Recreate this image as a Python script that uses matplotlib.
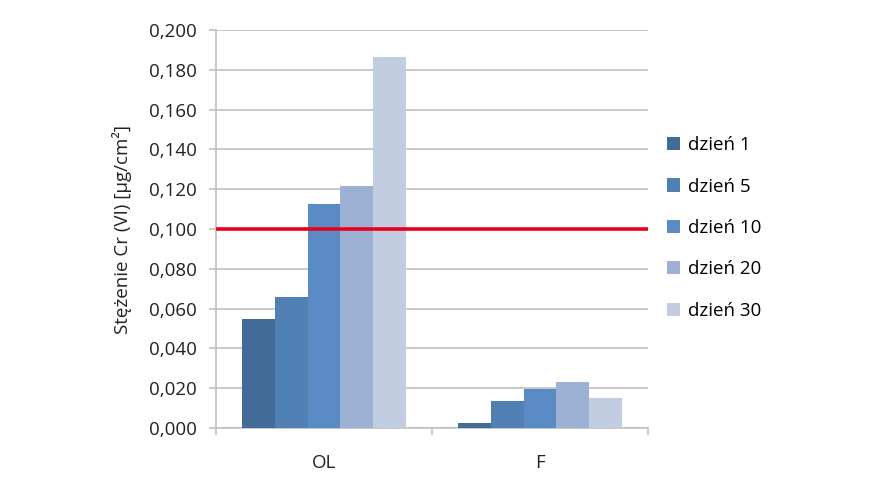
import numpy as np
import matplotlib
matplotlib.use("Agg")
import matplotlib.pyplot as plt
from matplotlib.ticker import FuncFormatter, FixedLocator

plt.rcParams['font.family'] = ['Open Sans', 'DejaVu Sans']

# Values
categories = ["OL", "F"]
series_labels = ["dzień 1", "dzień 5", "dzień 10", "dzień 20", "dzień 30"]
values = {
    "dzień 1": [0.0546, 0.0025],
    "dzień 5": [0.0656, 0.0136],
    "dzień 10": [0.1126, 0.0195],
    "dzień 20": [0.1218, 0.0230],
    "dzień 30": [0.1866, 0.0153],
}
limit_value = 0.100
colors = ["#436B98", "#5180B4", "#5B8BC4", "#9DB1D5", "#C2CDE2"]

fs = 13.5
fig = plt.figure(figsize=(8.72, 4.88), dpi=100)
ax = fig.add_axes([216 / 872, 1 - 428 / 488, 432 / 872, 398 / 488])

x = np.arange(len(categories))
group_w = 0.76
bar_w = group_w / len(series_labels)
for i, (lab, col) in enumerate(zip(series_labels, colors)):
    offs = -group_w / 2 + bar_w * (i + 0.5)
    ax.bar(x + offs, values[lab], width=bar_w, color=col, label=lab, zorder=3)

ax.axhline(limit_value, color="#E8001C", linewidth=2.6, zorder=4)

ax.set_xlim(-0.5, len(categories) - 0.5)
ax.set_ylim(0, 0.2)
ax.set_yticks(np.arange(0, 0.2001, 0.02))
ax.yaxis.set_major_formatter(FuncFormatter(lambda v, p: f"{v:.3f}".replace(".", ",")))
ax.grid(axis="y", color="#C0C0C0", linewidth=1.2, zorder=0)

# category labels centred, tick marks at the category boundaries
ax.set_xticks(x)
ax.set_xticklabels(categories)
ax.tick_params(axis="x", length=0, pad=19, labelsize=fs, colors="#222222")
ax.xaxis.set_minor_locator(FixedLocator([-0.5, 0.5, 1.5]))
ax.tick_params(axis="x", which="minor", length=5, color="#C0C0C0", width=1.2)
ax.tick_params(axis="y", length=5, color="#C0C0C0", width=1.2, labelsize=fs,
               labelcolor="#222222", pad=9)

for s in ["top", "right"]:
    ax.spines[s].set_visible(False)
for s in ["left", "bottom"]:
    ax.spines[s].set_color("#C0C0C0")
    ax.spines[s].set_linewidth(1.2)

ax.set_ylabel("Stężenie Cr (VI) [µg/cm²]", fontsize=fs, color="#222222", labelpad=12)

fig.legend(loc="center left", bbox_to_anchor=(650 / 872, 1 - 228 / 488), frameon=False,
           handlelength=0.7, handleheight=0.7, handletextpad=0.4, labelspacing=1.25,
           fontsize=fs)

fig.savefig("out.png", dpi=100)
